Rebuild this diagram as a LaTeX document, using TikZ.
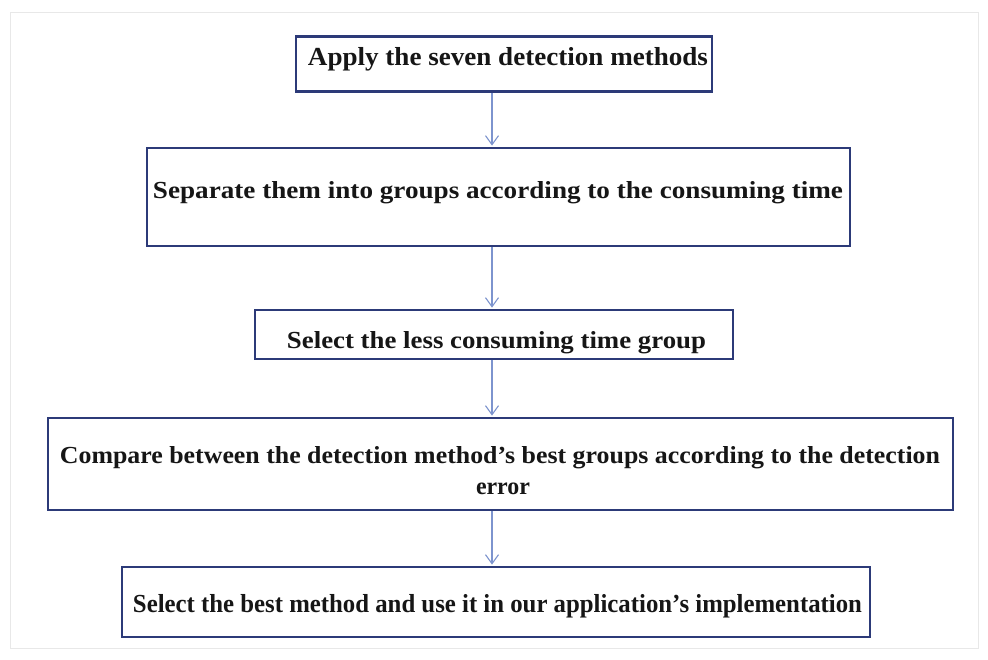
\documentclass[tikz,border=0pt]{standalone}
\usepackage{graphicx}
\usepackage{fontspec}
\setmainfont{Liberation Serif}
\usetikzlibrary{arrows.meta}
\definecolor{boxline}{RGB}{44,58,120}
\definecolor{flowline}{RGB}{125,148,206}
\definecolor{framegray}{RGB}{232,232,232}
\definecolor{ink}{RGB}{22,22,22}
% squeeze a line horizontally to a given width, keeping its height
\newcommand{\squeezeto}[2]{\resizebox{#1}{\height}{#2}}
\begin{document}
\begin{tikzpicture}[x=1pt,y=-1pt,
  stepbox/.style={draw=boxline,line width=2.8pt,fill=white,inner sep=0pt,rectangle},
  steptext/.style={anchor=base,inner sep=0pt,text=ink,font=\bfseries},
  flow/.style={draw=flowline,line width=1.2pt,-{Straight Barb[length=9pt,width=13pt,line width=1.1pt]},shorten >=1pt}]
  \useasboundingbox (0,0) rectangle (988,659);
  \fill[white] (0,0) rectangle (988,659);
  % faint page frame
  \draw[framegray,line width=1pt] (10,12) rectangle (978,648);

  % process boxes
  \node[stepbox,minimum width=416pt,minimum height=55pt] (b1) at (504,64) {};
  \node[stepbox,minimum width=703pt,minimum height=98pt] (b2) at (498.5,197) {};
  \node[stepbox,minimum width=478pt,minimum height=49pt] (b3) at (494,334.5) {};
  \node[stepbox,minimum width=905pt,minimum height=92pt] (b4) at (500.5,464) {};
  \node[stepbox,minimum width=748pt,minimum height=70pt] (b5) at (496,602) {};

  % box texts
  \node[steptext,font=\bfseries\fontsize{26}{30}\selectfont] (t1) at (508,65)
    {\squeezeto{400pt}{Apply the seven detection methods}};
  \node[steptext,font=\bfseries\fontsize{24.5}{28}\selectfont] (t2) at (498,198)
    {\squeezeto{690pt}{Separate them into groups according to the consuming time}};
  \node[steptext,font=\bfseries\fontsize{24.5}{28}\selectfont] (t3) at (496.5,348)
    {\squeezeto{419pt}{Select the less consuming time group}};
  \node[steptext,font=\bfseries\fontsize{24.5}{28}\selectfont] (t4a) at (500,463)
    {\squeezeto{880pt}{Compare between the detection method's best groups according to the detection}};
  \node[steptext,font=\bfseries\fontsize{24.5}{28}\selectfont] (t4b) at (503,494)
    {\squeezeto{54pt}{error}};
  \node[steptext,font=\bfseries\fontsize{26}{30}\selectfont] (t5) at (497.5,612)
    {\squeezeto{729pt}{Select the best method and use it in our application's implementation}};

  % connectors
  \coordinate (ax) at (492,0);
  \draw[flow] (b1.south -| ax) -- (b2.north -| ax);
  \draw[flow] (b2.south -| ax) -- (b3.north -| ax);
  \draw[flow] (b3.south -| ax) -- (b4.north -| ax);
  \draw[flow] (b4.south -| ax) -- (b5.north -| ax);
\end{tikzpicture}
\end{document}
